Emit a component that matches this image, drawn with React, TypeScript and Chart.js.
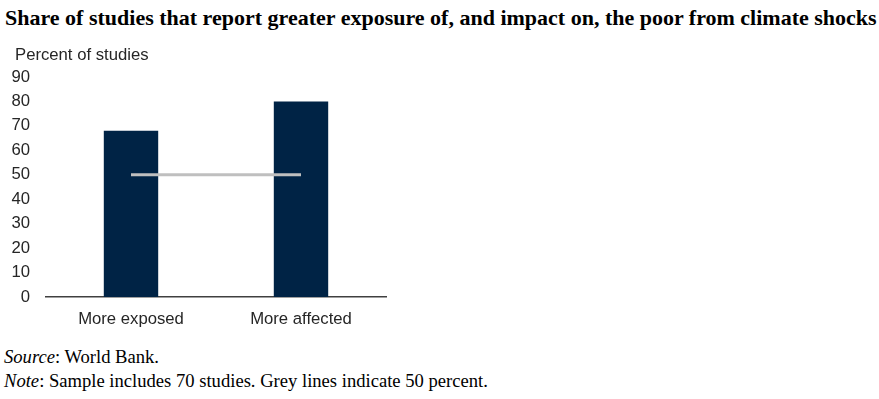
import React, { useEffect, useRef } from "react";
import { Chart, registerables } from "chart.js";

Chart.register(...registerables);

const categories = ["More exposed", "More affected"];
const shareValues = [68, 80];
const referenceValues = [50, 50];
const yTicksMax = 90;
const yStep = 10;

const titleText =
  "Share of studies that report greater exposure of, and impact on, the poor from climate shocks";
const yAxisTitle = "Percent of studies";

export default function App() {
  const canvasRef = useRef<HTMLCanvasElement | null>(null);

  useEffect(() => {
    document.body.style.margin = "0";
    const ctx = canvasRef.current;
    if (!ctx) return;
    const chart = new Chart(ctx, {
      data: {
        labels: categories,
        datasets: [
          {
            type: "line",
            data: referenceValues,
            borderColor: "#BFBFBF",
            borderWidth: 3,
            pointRadius: 0,
            order: 0,
          },
          {
            type: "bar",
            data: shareValues,
            backgroundColor: "#002345",
            barPercentage: 0.32,
            categoryPercentage: 1,
            order: 1,
          },
        ],
      },
      options: {
        responsive: false,
        animation: false,
        layout: { padding: { top: 77, right: 493, left: 0, bottom: 0 } },
        plugins: { legend: { display: false }, tooltip: { enabled: false } },
        scales: {
          x: {
            grid: { display: false, drawTicks: false },
            border: { display: true, color: "#404040", width: 1.5 },
            ticks: {
              color: "#262626",
              padding: 12,
              font: { family: "'Liberation Sans', Arial, sans-serif", size: 16.7 },
            },
            afterFit: (s: any) => {
              s.height = 43;
            },
          },
          y: {
            min: 0,
            max: yTicksMax,
            grid: { display: false, drawTicks: false },
            border: { display: false },
            ticks: {
              stepSize: yStep,
              color: "#262626",
              padding: 16,
              font: { family: "'Liberation Sans', Arial, sans-serif", size: 16.7 },
            },
            afterFit: (s: any) => {
              s.width = 46;
            },
          },
        },
      },
    });
    return () => chart.destroy();
  }, []);

  return (
    <div style={{ position: "relative", width: 879, height: 399, background: "#fff", overflow: "hidden" }}>
      <div
        style={{
          position: "absolute",
          left: 5,
          top: 7,
          whiteSpace: "nowrap",
          fontFamily: "'Liberation Serif', 'Times New Roman', serif",
          fontWeight: "bold",
          fontSize: 22,
          lineHeight: "22px",
          color: "#000",
        }}
      >
        {titleText}
      </div>
      <canvas
        ref={canvasRef}
        width={879}
        height={340}
        style={{ position: "absolute", left: 0, top: 0, width: 879, height: 340 }}
      />
      <div
        style={{
          position: "absolute",
          left: 15,
          top: 45,
          whiteSpace: "nowrap",
          fontFamily: "'Liberation Sans', Arial, sans-serif",
          fontSize: 16.7,
          lineHeight: "19px",
          color: "#262626",
        }}
      >
        {yAxisTitle}
      </div>
      <div
        style={{
          position: "absolute",
          left: 4,
          top: 345,
          whiteSpace: "nowrap",
          fontFamily: "'Liberation Serif', 'Times New Roman', serif",
          fontSize: 18.6,
          lineHeight: "24px",
          color: "#000",
        }}
      >
        <div>
          <i>Source</i>: World Bank.
        </div>
        <div>
          <i>Note</i>: Sample includes 70 studies. Grey lines indicate 50 percent.
        </div>
      </div>
    </div>
  );
}
